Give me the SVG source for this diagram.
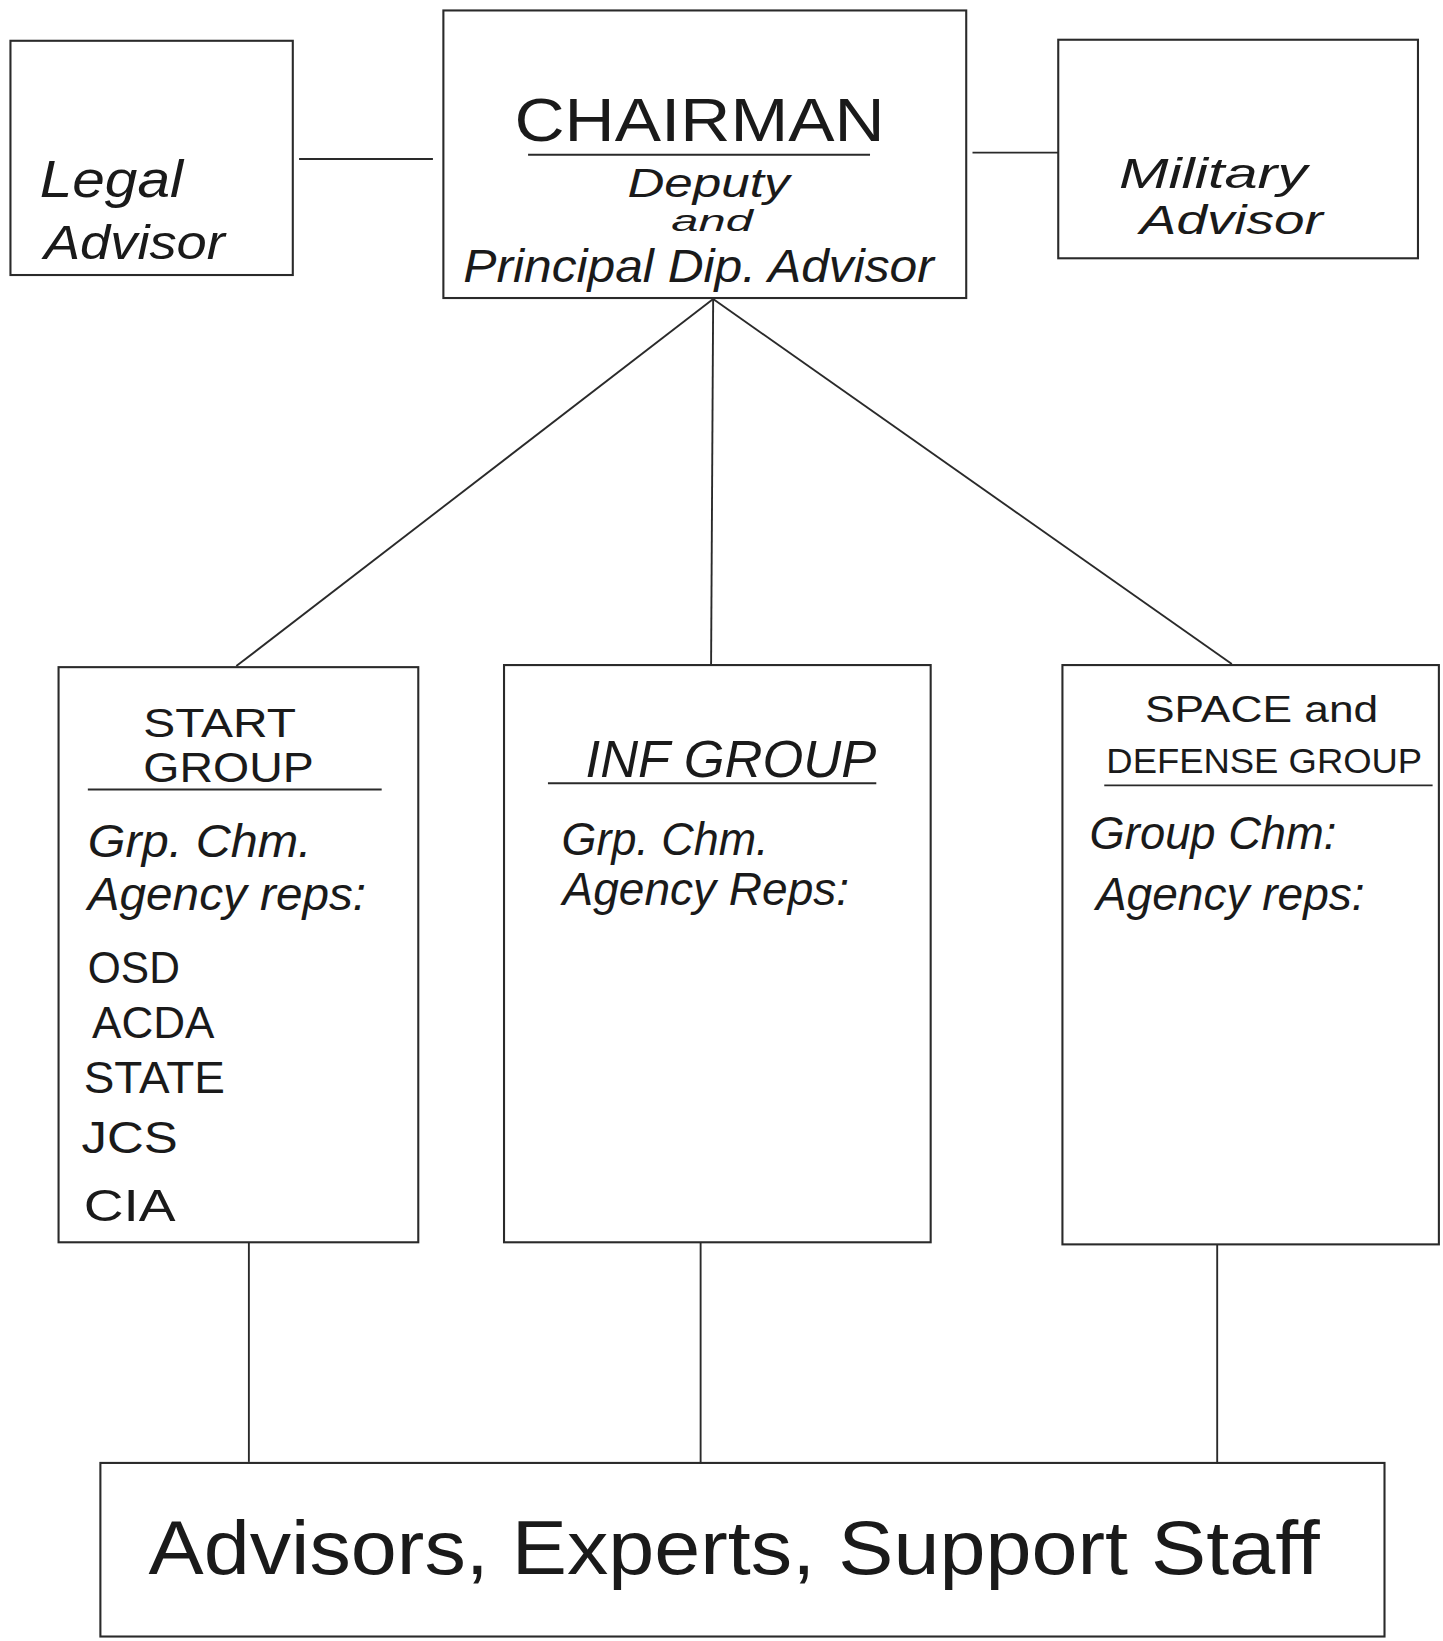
<svg xmlns="http://www.w3.org/2000/svg" width="1443" height="1641" viewBox="0 0 1443 1641">
<style>
.box{fill:none;stroke:#2a2a2a;stroke-width:2}
.ln{fill:none;stroke:#2a2a2a;stroke-width:1.8}
.t{font-family:"Liberation Sans","DejaVu Sans",sans-serif;fill:#1a1a1a}
.c{font-style:italic}
</style>
<rect width="1443" height="1641" fill="#ffffff"/>
<g transform="scale(1.0457)">
<g id="connectors">
<line class="ln" x1="286" y1="152" x2="414" y2="152"/>
<line class="ln" x1="930" y1="146" x2="1012" y2="146"/>
<line class="ln" x1="682" y1="286" x2="226" y2="637"/>
<line class="ln" x1="682" y1="286" x2="680" y2="637"/>
<line class="ln" x1="682" y1="286" x2="1178" y2="635"/>
<line class="ln" x1="238" y1="1188" x2="238" y2="1398"/>
<line class="ln" x1="670" y1="1188" x2="670" y2="1400"/>
<line class="ln" x1="1164" y1="1190" x2="1164" y2="1400"/>
</g>
<g id="legal">
<rect class="box" x="10" y="39" width="270" height="224"/>
<text class="t c" x="38" y="188" font-size="50" textLength="137" lengthAdjust="spacingAndGlyphs">Legal</text>
<text class="t c" x="42" y="248" font-size="46" textLength="173" lengthAdjust="spacingAndGlyphs">Advisor</text>
</g>
<g id="chairman">
<rect class="box" x="424" y="10" width="500" height="275"/>
<text class="t" x="492" y="135" font-size="58" textLength="354" lengthAdjust="spacingAndGlyphs">CHAIRMAN</text>
<line class="ln" x1="505" y1="148" x2="832" y2="148"/>
<text class="t c" x="600" y="188" font-size="38" textLength="155" lengthAdjust="spacingAndGlyphs">Deputy</text>
<text class="t c" x="642" y="221" font-size="28" textLength="78" lengthAdjust="spacingAndGlyphs">and</text>
<text class="t c" x="443" y="270" font-size="44" textLength="450" lengthAdjust="spacingAndGlyphs">Principal Dip. Advisor</text>
</g>
<g id="military">
<rect class="box" x="1012" y="38" width="344" height="209"/>
<text class="t c" x="1070" y="180" font-size="40" textLength="180" lengthAdjust="spacingAndGlyphs">Military</text>
<text class="t c" x="1090" y="224" font-size="38" textLength="175" lengthAdjust="spacingAndGlyphs">Advisor</text>
</g>
<g id="start">
<rect class="box" x="56" y="638" width="344" height="550"/>
<text class="t" x="137" y="705" font-size="38" textLength="146" lengthAdjust="spacingAndGlyphs">START</text>
<text class="t" x="137" y="748" font-size="40" textLength="163" lengthAdjust="spacingAndGlyphs">GROUP</text>
<line class="ln" x1="84" y1="755" x2="365" y2="755"/>
<text class="t c" x="84" y="820" font-size="44" textLength="214" lengthAdjust="spacingAndGlyphs">Grp. Chm.</text>
<text class="t c" x="84" y="870" font-size="44" textLength="266" lengthAdjust="spacingAndGlyphs">Agency reps:</text>
<text class="t" x="84" y="940" font-size="42" textLength="88" lengthAdjust="spacingAndGlyphs">OSD</text>
<text class="t" x="88" y="993" font-size="42" textLength="117" lengthAdjust="spacingAndGlyphs">ACDA</text>
<text class="t" x="80" y="1045" font-size="42" textLength="135" lengthAdjust="spacingAndGlyphs">STATE</text>
<text class="t" x="78" y="1103" font-size="42" textLength="92" lengthAdjust="spacingAndGlyphs">JCS</text>
<text class="t" x="80" y="1168" font-size="42" textLength="88" lengthAdjust="spacingAndGlyphs">CIA</text>
</g>
<g id="inf">
<rect class="box" x="482" y="636" width="408" height="552"/>
<text class="t c" x="560" y="743" font-size="50" textLength="278" lengthAdjust="spacingAndGlyphs">INF GROUP</text>
<line class="ln" x1="524" y1="749" x2="838" y2="749"/>
<text class="t c" x="537" y="818" font-size="44" textLength="198" lengthAdjust="spacingAndGlyphs">Grp. Chm.</text>
<text class="t c" x="538" y="865" font-size="44" textLength="274" lengthAdjust="spacingAndGlyphs">Agency Reps:</text>
</g>
<g id="space">
<rect class="box" x="1016" y="636" width="360" height="554"/>
<text class="t" x="1095" y="690" font-size="36" textLength="223" lengthAdjust="spacingAndGlyphs">SPACE and</text>
<text class="t" x="1058" y="739" font-size="34" textLength="302" lengthAdjust="spacingAndGlyphs">DEFENSE GROUP</text>
<line class="ln" x1="1056" y1="751" x2="1370" y2="751"/>
<text class="t c" x="1042" y="812" font-size="44" textLength="236" lengthAdjust="spacingAndGlyphs">Group Chm:</text>
<text class="t c" x="1048" y="870" font-size="44" textLength="257" lengthAdjust="spacingAndGlyphs">Agency reps:</text>
</g>
<g id="staff">
<rect class="box" x="96" y="1399" width="1228" height="166"/>
<text class="t" x="142" y="1505" font-size="72" textLength="1120" lengthAdjust="spacingAndGlyphs">Advisors, Experts, Support Staff</text>
</g>
</g>
</svg>
